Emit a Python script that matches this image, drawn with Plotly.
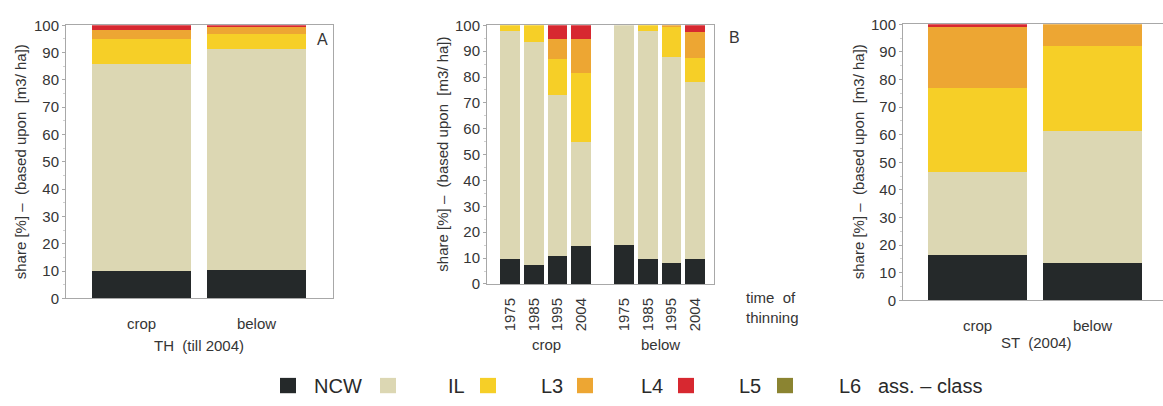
import plotly.graph_objects as go

# Assortment classes and their colours
classes = ["NCW", "IL", "L3", "L4", "L5", "L6"]
class_colors = ["#25292a", "#dcd7b3", "#f6cf27", "#eda633", "#d72830", "#8b8431"]

# Panel A: TH (till 2004)
th_groups = ["crop", "below"]
th_ncw = [9.8, 10.1]
th_il = [76.1, 81.1]
th_l3 = [9.0, 5.4]
th_l4 = [3.2, 2.8]
th_l5 = [1.9, 0.6]
th_l6 = [0.0, 0.0]

# Panel B: time of thinning, crop vs. below
thin_groups = ["crop", "below"]
thin_years = ["1975", "1985", "1995", "2004"]
tt_ncw = [9.5, 7.4, 10.9, 14.7, 15.1, 9.6, 7.9, 9.5]
tt_il = [88.3, 86.1, 62.2, 39.9, 84.9, 87.9, 79.8, 68.3]
tt_l3 = [2.2, 6.5, 13.9, 26.9, 0.0, 2.5, 11.4, 9.5]
tt_l4 = [0.0, 0.0, 7.7, 13.2, 0.0, 0.0, 0.9, 10.0]
tt_l5 = [0.0, 0.0, 5.3, 5.3, 0.0, 0.0, 0.0, 2.7]
tt_l6 = [0.0] * 8

# Panel C: ST (2004)
st_groups = ["crop", "below"]
st_ncw = [16.4, 13.3]
st_il = [29.8, 47.9]
st_l3 = [30.7, 30.9]
st_l4 = [21.9, 7.9]
st_l5 = [1.2, 0.0]
st_l6 = [0.0, 0.0]

y_ticks = list(range(0, 101, 10))

W, H = 1163, 406
FONT = "Liberation Sans, Arial, sans-serif"
TXT = "#353535"
FRAME = "#a8a8a8"


def px_x(p):
    return p / W


def px_y(p):
    return 1 - p / H


fig = go.Figure()

# positions for panel B: four years per group, groups separated by a gap
group_gap = 1.8
tt_x = [g * (len(thin_years) - 1 + group_gap) + i
        for g in range(len(thin_groups)) for i in range(len(thin_years))]
tt_text = [y for _ in thin_groups for y in thin_years]

panels = [
    ("x", "y", [0, 1], [th_ncw, th_il, th_l3, th_l4, th_l5, th_l6], 0.86),
    ("x2", "y2", tt_x, [tt_ncw, tt_il, tt_l3, tt_l4, tt_l5, tt_l6], 0.84),
    ("x3", "y3", [0, 1], [st_ncw, st_il, st_l3, st_l4, st_l5, st_l6], 0.86),
]

for xa, ya, xs, series, bw in panels:
    for name, col, vals in zip(classes, class_colors, series):
        fig.add_trace(go.Bar(
            x=xs, y=vals, name=name, marker=dict(color=col, line=dict(width=0)),
            width=bw, xaxis=xa, yaxis=ya, showlegend=False,
        ))

yaxis_common = dict(
    range=[0, 100], tickvals=y_ticks, ticks="outside", ticklen=3,
    tickcolor=FRAME, showline=True, linecolor=FRAME, linewidth=1,
    showgrid=False, zeroline=False,
    tickfont=dict(family=FONT, size=15, color=TXT),
    minor=dict(ticks="outside", ticklen=2, dtick=5, tickcolor="#cfcfcf"),
)
xaxis_common = dict(
    showline=True, linecolor=FRAME, linewidth=1, showgrid=False,
    zeroline=False, ticks="", mirror=True,
    tickfont=dict(family=FONT, size=15, color=TXT),
)

fig.update_layout(
    width=W, height=H, margin=dict(l=0, r=0, t=0, b=0),
    paper_bgcolor="white", plot_bgcolor="white",
    barmode="stack", bargap=0,
    xaxis=dict(xaxis_common, domain=[px_x(66), px_x(333)], anchor="y",
               range=[-0.657, 1.665], tickvals=[0, 1], ticktext=th_groups,
               ticklabelstandoff=12),
    yaxis=dict(yaxis_common, domain=[px_y(302), px_y(17)], anchor="x", mirror=True),
    xaxis2=dict(xaxis_common, domain=[px_x(487), px_x(714)], anchor="y2",
                range=[-0.97, 8.59], tickvals=tt_x, ticktext=tt_text,
                tickangle=-90, ticklabelstandoff=7),
    yaxis2=dict(yaxis_common, domain=[px_y(287), px_y(17)], anchor="x2", mirror=True),
    xaxis3=dict(xaxis_common, domain=[px_x(903), 1.0], anchor="y3",
                range=[-0.648, 1.613], tickvals=[0, 1], ticktext=st_groups,
                ticklabelstandoff=12),
    yaxis3=dict(yaxis_common, domain=[px_y(304), px_y(16)], anchor="x3"),
)

ytitle = "share [%] \u2013  (based upon  [m3/ ha])"
annots = [
    # y-axis titles
    (20, 160, ytitle, 15, -90),
    (443, 152, ytitle, 15, -90),
    (858, 160, ytitle, 15, -90),
    # panel letters
    (322, 32, "A", 16, 0),
    (734, 30, "B", 16, 0),
    # group and panel captions
    (199, 351, "TH  (till 2004)", 15, 0),
    (546, 350, "crop", 15, 0),
    (660, 350, "below", 15, 0),
    (1036, 348, "ST  (2004)", 15, 0),
]
for x, y, t, s, ang in annots:
    fig.add_annotation(xref="paper", yref="paper", x=px_x(x), y=px_y(y),
                       text=t, showarrow=False, textangle=ang,
                       xanchor="center", yanchor="middle",
                       font=dict(family=FONT, size=s, color=TXT))

fig.add_annotation(xref="paper", yref="paper", x=px_x(744), y=px_y(312),
                   text="time  of<br>thinning", showarrow=False, align="left",
                   xanchor="left", yanchor="middle",
                   font=dict(family=FONT, size=15, color=TXT))

# legend row: swatch followed by class label
leg_y = 393
sw = 16
swatch_x = [280, 380, 480, 577, 678, 777]
label_x = [312, 446, 539, 639, 737, 837]
for sx, lx, name, col in zip(swatch_x, label_x, classes, class_colors):
    fig.add_shape(type="rect", xref="paper", yref="paper",
                  x0=px_x(sx), x1=px_x(sx + sw),
                  y0=px_y(leg_y + sw / 2), y1=px_y(leg_y - sw / 2),
                  fillcolor=col, line=dict(width=0))
    fig.add_annotation(xref="paper", yref="paper", x=px_x(lx), y=px_y(leg_y),
                       text=name, showarrow=False, xanchor="left", yanchor="middle",
                       font=dict(family=FONT, size=20, color="#2a2a2a"))
fig.add_annotation(xref="paper", yref="paper", x=px_x(876), y=px_y(leg_y),
                   text="ass. \u2013 class", showarrow=False, xanchor="left",
                   yanchor="middle", font=dict(family=FONT, size=20, color="#2a2a2a"))

fig.write_html("out.html")
